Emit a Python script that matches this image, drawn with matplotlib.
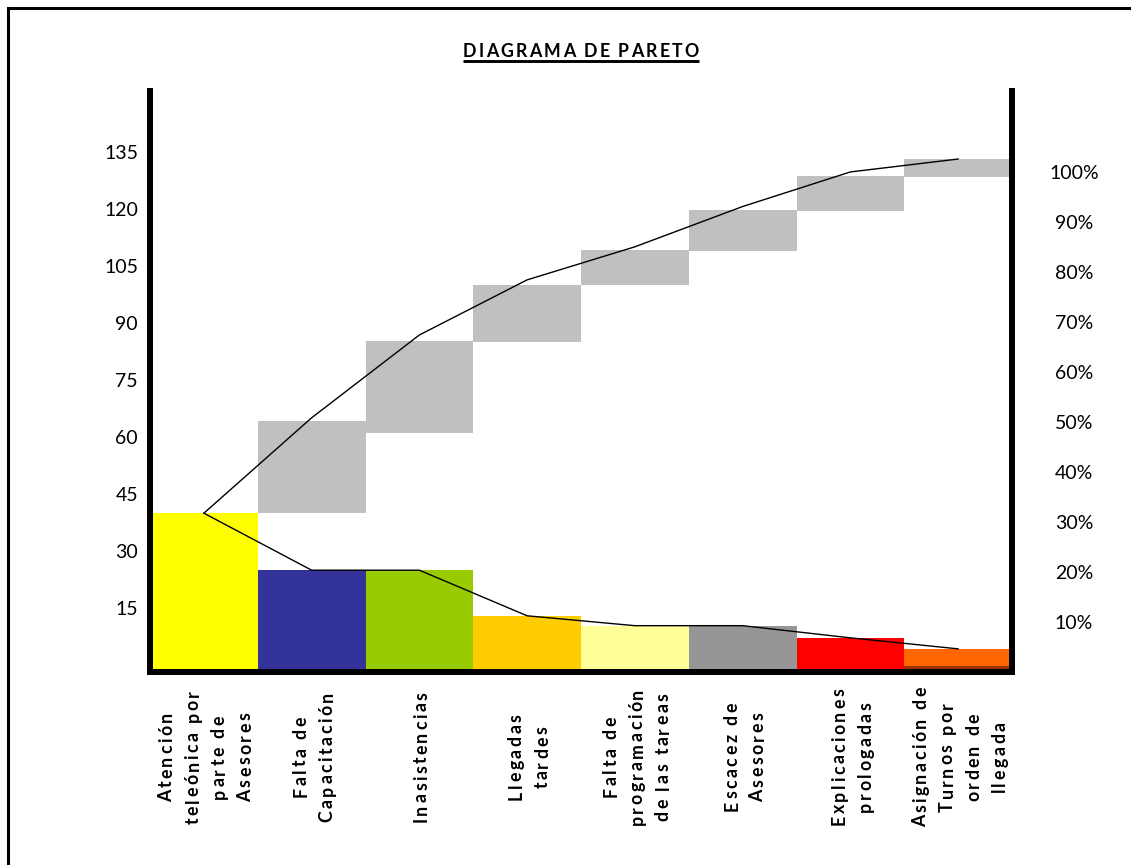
import matplotlib
matplotlib.use("Agg")
import matplotlib.pyplot as plt
from matplotlib.transforms import ScaledTranslation, IdentityTransform
from matplotlib.patches import Rectangle
from matplotlib.lines import Line2D
from matplotlib.font_manager import FontProperties, findfont, get_font

# ---- data ----
categories = [
    "Atención\nteleónica por\nparte de\nAsesores",
    "Falta de\nCapacitación",
    "Inasistencias",
    "Llegadas\ntardes",
    "Falta de\nprogramación\nde las tareas",
    "Escacez de\nAsesores",
    "Explicaciones\nprologadas",
    "Asignación de\nTurnos por\norden de\nllegada",
]
frequency = [41, 26, 26, 14, 11.4, 11.4, 8.2, 5.3]
bottom_band = [0, 0, 0, 0, 0, 0, 0, 0.9]
step_bottom = [41, 62.2, 86.1, 101.1, 110.1, 120.6, 129.6]
step_top = [65.3, 86.3, 101.1, 110.3, 120.8, 129.7, 134.2]
cumulative = [41, 66.1, 87.9, 102.4, 111.1, 121.7, 130.8, 134.2]
left_ticks = [15, 30, 45, 60, 75, 90, 105, 120, 135]
right_ticks = [10, 20, 30, 40, 50, 60, 70, 80, 90, 100]
title_text = "DIAGRAMA DE PARETO"

bar_colors = ["#FFFF00", "#333399", "#99CC00", "#FFCC00",
              "#FFFF99", "#969696", "#FF0000", "#FF6600"]
band_color = "#993300"
step_color = "#C0C0C0"

FONT = ["Lato", "DejaVu Sans"]

W, H, DPI = 1131, 865, 100
fig = plt.figure(figsize=(W / DPI, H / DPI), dpi=DPI, facecolor="white")

# axes box in pixels: x 150..1012, y 91..671.5 (from top)
ax = fig.add_axes([150 / W, (H - 671.5) / H, 862 / W, 580.5 / H])
ax.set_facecolor("white")

x = list(range(len(categories)))

# category bars
ax.bar(x, frequency, width=1.0, color=bar_colors, zorder=1)
ax.bar(x, bottom_band, width=1.0, color=band_color, zorder=1.1)

# floating cumulative steps
step_heights = [t - b for t, b in zip(step_top, step_bottom)]
ax.bar(x[1:], step_heights, bottom=step_bottom, width=1.0,
       color=step_color, zorder=1)

# lines
ax.plot(x, cumulative, color="black", lw=1.0, zorder=3)
ax.plot(x, frequency, color="black", lw=1.0, zorder=3)

ax.set_xlim(-0.5, len(categories) - 0.5)
ax.set_ylim(-0.658, 152.1)

for side in ("left", "right", "bottom"):
    ax.spines[side].set_linewidth(4.32)
    ax.spines[side].set_color("black")
    ax.spines[side].set_capstyle("projecting")
ax.spines["top"].set_visible(False)

ax.set_yticks(left_ticks)
ax.set_yticklabels([str(v) for v in left_ticks], family=FONT, fontsize=14)
ax.tick_params(axis="y", length=0, pad=8.6)
lift = ScaledTranslation(0, 3.5 / DPI, fig.dpi_scale_trans)
for lbl in ax.get_yticklabels():
    lbl.set_transform(lbl.get_transform() + lift)

ax.set_xticks(x)
ax.set_xticklabels([])
ax.tick_params(axis="x", length=0)

# percentage scale on the right
ax2 = ax.twinx()
ax2.set_ylim(0.1, 116.2)
for side in ax2.spines:
    ax2.spines[side].set_visible(False)
ax2.set_yticks(right_ticks)
ax2.set_yticklabels([f"{v}%" for v in right_ticks], family=FONT,
                    fontsize=14, ha="center")
ax2.tick_params(axis="y", length=0, pad=44.6)


# ---- letter-spaced text helpers (pixel coordinates) ----
def advances(text, prop):
    font = get_font(findfont(prop), hinting_factor=1)
    font.set_size(prop.get_size_in_points(), DPI)
    return [font.load_char(ord(ch)).linearHoriAdvance / 65536 for ch in text]


def tracked_line(x0, y0, text, prop, track, vertical):
    """Draw one line of text with extra space between letters."""
    pos = x0 if not vertical else y0
    for ch, adv in zip(text, advances(text, prop)):
        if vertical:
            fig.text(x0, pos, ch, transform=IdentityTransform(),
                     rotation=90, rotation_mode="anchor",
                     ha="left", va="baseline", fontproperties=prop)
        else:
            fig.text(pos, y0, ch, transform=IdentityTransform(),
                     ha="left", va="baseline", fontproperties=prop)
        pos += adv + track


def line_length(text, prop, track):
    return sum(advances(text, prop)) + track * (len(text) - 1)


# category labels, rotated and centred under each bar
lab_size = 12.8
lab_prop = FontProperties(family=FONT, weight="bold", size=lab_size)
lab_em = lab_size * DPI / 72
lab_track = 2.4
lab_pitch = 26.3
lab_mid = H - 757
for i, label in enumerate(categories):
    cx = ax.transData.transform((i, 0))[0] + 2
    lines = label.split("\n")
    n = len(lines)
    for k, line in enumerate(lines):
        col = cx + (k - (n - 1) / 2) * lab_pitch
        length = line_length(line, lab_prop, lab_track)
        tracked_line(col + 0.32 * lab_em, lab_mid - length / 2, line,
                     lab_prop, lab_track, vertical=True)

# title, letter-spaced and underlined
ttl_prop = FontProperties(family=FONT, weight="bold", size=12.8)
ttl_track = 2.0
ttl_len = line_length(title_text, ttl_prop, ttl_track)
ttl_cx = (ax.transAxes.transform((0, 0))[0] + ax.transAxes.transform((1, 0))[0]) / 2
ttl_x0 = ttl_cx - ttl_len / 2
tracked_line(ttl_x0, H - 57, title_text, ttl_prop, ttl_track, vertical=False)
fig.add_artist(Line2D([ttl_x0, ttl_x0 + ttl_len], [H - 61, H - 61],
                      transform=IdentityTransform(), color="black", lw=2.1,
                      solid_capstyle="butt"))

# outer frame (runs off the right and bottom edges)
fig.add_artist(Rectangle((7.5 / W, -0.2), 1.5, (H - 8) / H + 0.2,
                         transform=fig.transFigure, fill=False,
                         edgecolor="black", lw=2.2))

fig.savefig("out.png", dpi=DPI, facecolor="white")
